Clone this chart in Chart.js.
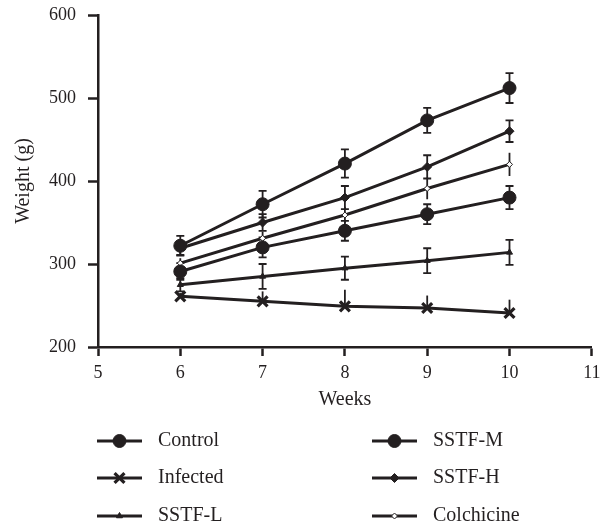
<!DOCTYPE html>
<html>
<head>
<meta charset="utf-8">
<script src="https://cdn.jsdelivr.net/npm/chart.js@4/dist/chart.umd.min.js"></script>
<style>
html,body{margin:0;padding:0;background:#fff;}
#wrap{width:602px;height:527px;}
</style>
</head>
<body>
<div id="wrap"><canvas id="c" width="602" height="527"></canvas></div>
<script>
// ---- data ----
const weeks = [6, 7, 8, 9, 10];
const xTicks = [5, 6, 7, 8, 9, 10, 11];
const yTicks = [200, 300, 400, 500, 600];

const seriesNames = ['Control', 'Infected', 'SSTF-L', 'SSTF-M', 'SSTF-H', 'Colchicine'];

const control    = [322, 372, 421, 473, 512];
const infected   = [261, 255, 249, 247, 241];
const sstfL      = [275, 285, 295, 304, 314];
const sstfM      = [291, 320, 340, 360, 380];
const sstfH      = [319, 350, 380, 417, 460];
const colchicine = [301, 331, 359, 391, 420];

const controlErr    = [12, 16, 17, 15, 18];
const infectedErr   = [4, 12, 20, 15, 16];
const sstfLErr      = [8, 15, 14, 15, 15];
const sstfMErr      = [10, 12, 12, 12, 14];
const sstfHErr      = [8, 10, 14, 14, 13];
const colchicineErr = [6, 8, 10, 13, 14];

const INK = '#231f20';
const FONT = "'Liberation Serif', 'DejaVu Serif', serif";

function pts(vals) { return weeks.map((w, i) => ({x: w, y: vals[i]})); }

const datasets = [
  {label: seriesNames[0], data: pts(control), err: controlErr, errDir: 'both', cap: true,
   pointStyle: 'circle', pointRadius: 6.5, pointBorderWidth: 1, pointBackgroundColor: INK,
   legendCol: 0, legendRow: 0},
  {label: seriesNames[1], data: pts(infected), err: infectedErr, errDir: 'up', cap: false,
   pointStyle: 'crossRot', pointRadius: 7, pointBorderWidth: 3.2, pointBackgroundColor: INK,
   legendCol: 0, legendRow: 1},
  {label: seriesNames[2], data: pts(sstfL), err: sstfLErr, errDir: 'both', cap: true,
   pointStyle: 'triangle', pointRadius: 3.5, pointBorderWidth: 1, pointBackgroundColor: INK,
   legendCol: 0, legendRow: 2},
  {label: seriesNames[3], data: pts(sstfM), err: sstfMErr, errDir: 'both', cap: true,
   pointStyle: 'circle', pointRadius: 6.5, pointBorderWidth: 1, pointBackgroundColor: INK,
   legendCol: 1, legendRow: 0},
  {label: seriesNames[4], data: pts(sstfH), err: sstfHErr, errDir: 'both', cap: true,
   pointStyle: 'rectRot', pointRadius: 4.5, pointBorderWidth: 1, pointBackgroundColor: INK,
   legendCol: 1, legendRow: 1},
  {label: seriesNames[5], data: pts(colchicine), err: colchicineErr, errDir: 'both', cap: false,
   pointStyle: 'rectRot', pointRadius: 3, pointBorderWidth: 1, pointBackgroundColor: '#ffffff',
   legendCol: 1, legendRow: 2}
].map(d => Object.assign({
  borderColor: INK, pointBorderColor: INK, borderWidth: 3, showLine: true, fill: false, tension: 0
}, d));

const errorBars = {
  id: 'errorBars',
  beforeDatasetsDraw(chart) {
    const ctx = chart.ctx, xs = chart.scales.x, ys = chart.scales.y;
    ctx.save();
    ctx.strokeStyle = INK;
    ctx.lineWidth = 1.8;
    chart.data.datasets.forEach(ds => {
      ds.data.forEach((p, i) => {
        const e = ds.err[i];
        const px = xs.getPixelForValue(p.x);
        const top = ys.getPixelForValue(p.y + e);
        const bot = ys.getPixelForValue(ds.errDir === 'up' ? p.y : p.y - e);
        ctx.beginPath();
        ctx.moveTo(px, top); ctx.lineTo(px, bot);
        if (ds.cap) {
          ctx.moveTo(px - 4, top); ctx.lineTo(px + 4, top);
          ctx.moveTo(px - 4, bot); ctx.lineTo(px + 4, bot);
        }
        ctx.stroke();
      });
    });
    ctx.restore();
  }
};

const customLegend = {
  id: 'customLegend',
  afterDraw(chart) {
    const ctx = chart.ctx;
    const colX = [97, 372];
    const rowY = [441, 478, 516];
    const drawPoint = (Chart.helpers && Chart.helpers.drawPoint) ? Chart.helpers.drawPoint : null;
    ctx.save();
    chart.data.datasets.forEach(ds => {
      const x0 = colX[ds.legendCol], y = rowY[ds.legendRow];
      ctx.strokeStyle = INK;
      ctx.lineWidth = 3;
      ctx.beginPath(); ctx.moveTo(x0, y); ctx.lineTo(x0 + 45, y); ctx.stroke();
      ctx.fillStyle = ds.pointBackgroundColor;
      ctx.strokeStyle = INK;
      ctx.lineWidth = ds.pointBorderWidth;
      if (drawPoint) {
        drawPoint(ctx, {pointStyle: ds.pointStyle, radius: ds.pointRadius, rotation: 0,
                        borderWidth: ds.pointBorderWidth}, x0 + 22.5, y);
      }
      ctx.fillStyle = INK;
      ctx.font = "20px " + FONT;
      ctx.textBaseline = 'middle';
      ctx.textAlign = 'left';
      ctx.fillText(ds.label, x0 + 61, y);
    });
    ctx.restore();
  }
};

new Chart(document.getElementById('c'), {
  type: 'scatter',
  data: {datasets},
  options: {
    responsive: false,
    animation: false,
    layout: {padding: {left: 0, top: 15, right: 8, bottom: 115}},
    plugins: {legend: {display: false}, tooltip: {enabled: false}},
    scales: {
      x: {
        type: 'linear', min: 5, max: 11,
        afterBuildTicks(s) { s.ticks = xTicks.map(v => ({value: v})); },
        afterFit(s) { s.height = 65; s.paddingLeft = 0; s.paddingRight = 0; },
        border: {display: true, color: INK, width: 2.5},
        grid: {display: true, drawOnChartArea: false, drawTicks: true, tickLength: 9, tickColor: INK, tickWidth: 2.5},
        ticks: {color: INK, font: {family: FONT, size: 18}, padding: 6, maxRotation: 0},
        title: {display: true, text: 'Weeks', color: INK, font: {family: FONT, size: 20}, padding: {top: 0, bottom: 0}}
      },
      y: {
        type: 'linear', min: 200, max: 600,
        afterBuildTicks(s) { s.ticks = yTicks.map(v => ({value: v})); },
        afterFit(s) { s.width = 98; s.paddingTop = 0; s.paddingBottom = 0; },
        border: {display: true, color: INK, width: 2.5},
        grid: {display: true, drawOnChartArea: false, drawTicks: true, tickLength: 10, tickColor: INK, tickWidth: 2.5},
        ticks: {color: INK, font: {family: FONT, size: 18}, padding: 12},
        title: {display: true, text: 'Weight (g)', color: INK, font: {family: FONT, size: 20}, padding: {top: 12, bottom: 0}}
      }
    }
  },
  plugins: [errorBars, customLegend]
});
</script>
</body>
</html>
